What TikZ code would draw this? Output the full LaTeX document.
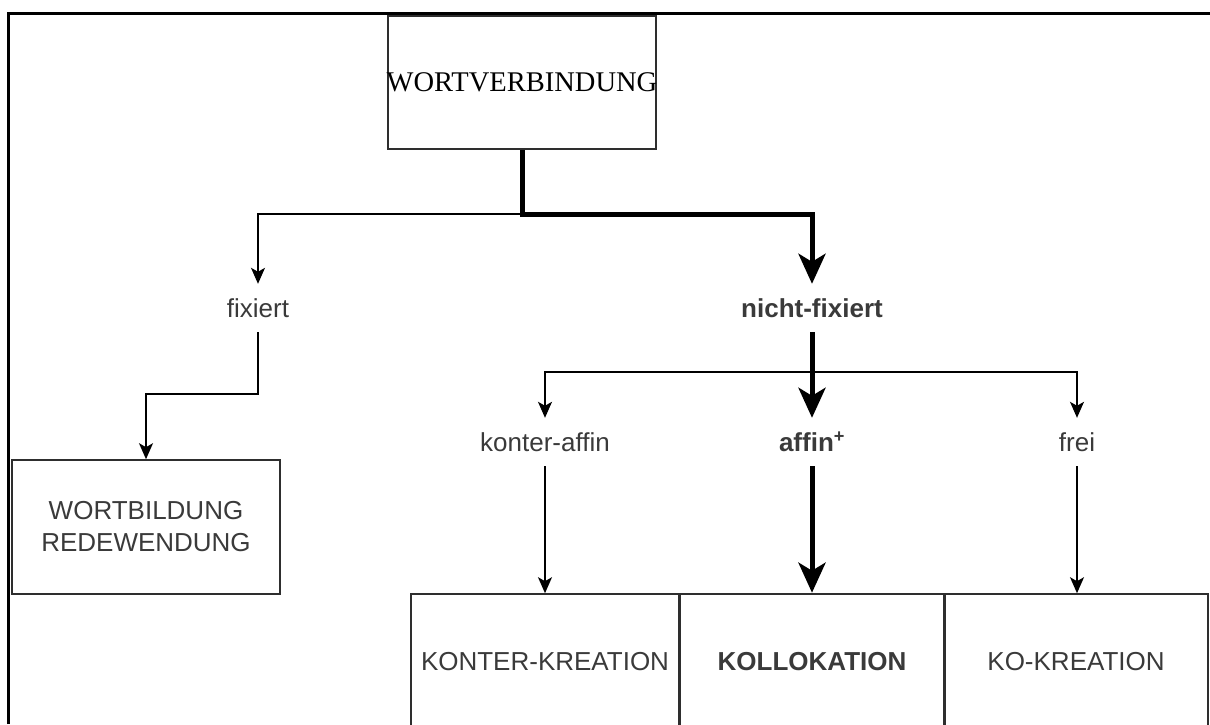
\documentclass[tikz,border=0pt]{standalone}
\usepackage{fontspec}
\setmainfont{Liberation Sans}
\newfontfamily\wvfont{Liberation Serif}
\usetikzlibrary{arrows.meta}
\definecolor{txtgray}{HTML}{3A3A3A}
\definecolor{linegray}{HTML}{2E2E2E}
\begin{document}
\begin{tikzpicture}[x=1pt,y=-1pt,
 box/.style={draw=linegray,line width=1.6pt,minimum width=268pt,minimum height=134pt,inner sep=0pt,text=txtgray,font=\fontsize{26}{32}\selectfont,align=center},
 lbl/.style={inner sep=0pt,minimum height=48pt,text=txtgray,font=\fontsize{26}{32}\selectfont},
 thinarr/.style={draw=black,line width=1.5pt,-{Stealth[length=16pt,width=14pt,inset=4pt]}},
 thickarr/.style={draw=black,line width=5pt,-{Stealth[length=30pt,width=27pt,inset=8pt]}}]
 \useasboundingbox (0,0) rectangle (1210,724);
 \draw[line width=3pt,black](8,724)--(8,13)--(1210,13);
 \node[box,minimum height=133pt,text=black,font=\wvfont\fontsize{28.5}{32}\selectfont] (wv) at (522,82.5) {\makebox[0pt]{WORTVERBINDUNG}};
 \node[lbl] (fix) at (258,308) {fixiert};
 \node[lbl,font=\bfseries\fontsize{26}{32}\selectfont] (nfix) at (812,308) {nicht-fixiert};
 \node[lbl] (konter) at (545,442) {konter-affin};
 \node[lbl,font=\bfseries\fontsize{26}{32}\selectfont] (affin) at (812,442) {affin\textsuperscript{+}};
 \node[lbl] (frei) at (1077,442) {frei};
 \node[box] (wb) at (146,527) {WORTBILDUNG\\REDEWENDUNG};
 \node[box,minimum height=136pt] (kk) at (545,662) {KONTER-KREATION};
 \node[box,minimum width=265pt,minimum height=136pt,line width=2.6pt,font=\bfseries\fontsize{26}{32}\selectfont] (koll) at (812,662) {KOLLOKATION};
 \node[box,minimum width=264pt,minimum height=136pt] (ko) at (1076,662) {KO-KREATION};
 \coordinate (split) at (522,214);
 \coordinate (fixbend) at (258,394);
 \coordinate (bar) at (812,372);
 \draw[thinarr](split)-|(fix.north);
 \draw[thickarr](wv.south)--(split)-|(nfix.north);
 \draw[thinarr](fix.south)--(fixbend)-|(wb.north);
 \draw[thinarr](bar)-|(konter.north);
 \draw[thinarr](bar)-|(frei.north);
 \draw[thickarr](nfix.south)--(affin.north);
 \draw[thinarr](konter.south)--(kk.north);
 \draw[thickarr](affin.south)--(koll.north);
 \draw[thinarr](frei.south)--(frei.south|-ko.north);
\end{tikzpicture}
\end{document}
